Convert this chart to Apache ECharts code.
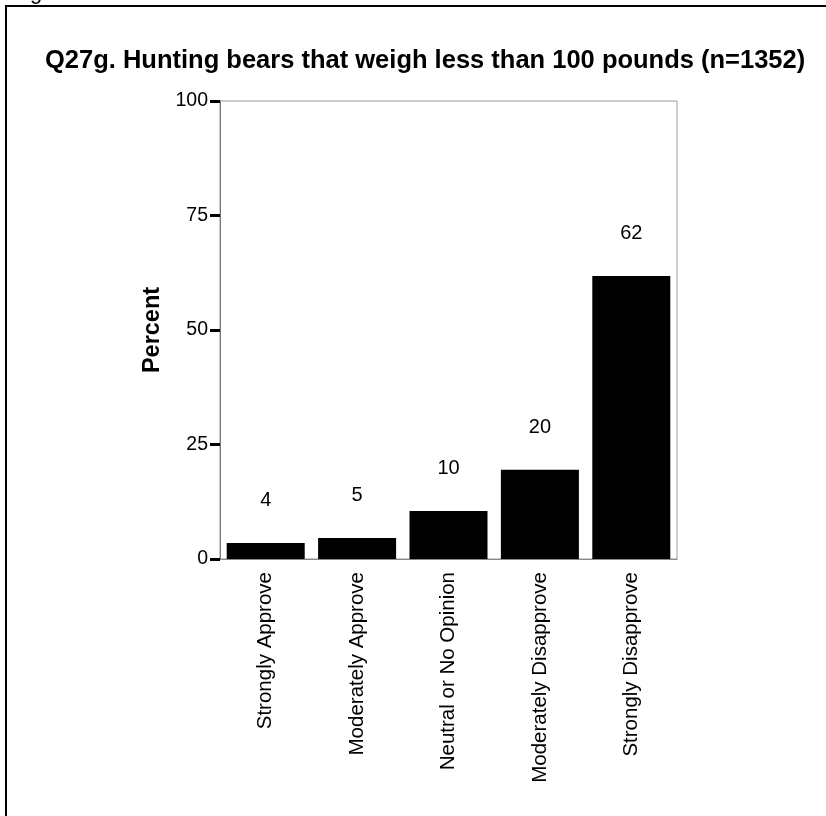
<!DOCTYPE html>
<html>
<head>
<meta charset="utf-8">
<script src="https://cdn.jsdelivr.net/npm/echarts@6/dist/echarts.min.js"></script>
<style>
  html, body { margin: 0; padding: 0; background: #fff; }
  #chart { width: 826px; height: 816px; }
</style>
</head>
<body>
<div id="chart"></div>
<script>
  var categories = ['Strongly Approve', 'Moderately Approve', 'Neutral or No Opinion', 'Moderately Disapprove', 'Strongly Disapprove'];
  var percents = [3.5, 4.6, 10.5, 19.5, 61.8];
  var barLabels = ['4', '5', '10', '20', '62'];
  var yTicks = [0, 25, 50, 75, 100];

  var font = '"Liberation Sans", Arial, sans-serif';
  var chart = echarts.init(document.getElementById('chart'));

  var option = {
    animation: false,
    backgroundColor: '#fff',
    title: {
      text: 'Q27g. Hunting bears that weigh less than 100 pounds (n=1352)',
      left: 40,
      top: 43,
      textStyle: { fontFamily: font, fontSize: 25.5, fontWeight: 'bold', color: '#000' }
    },
    graphic: [
      { // page frame, left and top edges
        type: 'polyline',
        shape: { points: [[6, 816], [6, 6], [826, 6]] },
        style: { stroke: '#000', lineWidth: 2, fill: null }
      },
      { // cut-off text above the frame
        type: 'text',
        left: 30,
        top: -18,
        style: { text: 'g', font: '22px "Liberation Sans", Arial', fill: '#000' }
      }
    ],
    grid: {
      left: 220,
      top: 101,
      width: 457,
      height: 458,
      show: true,
      borderColor: '#999',
      borderWidth: 1
    },
    xAxis: {
      type: 'category',
      data: categories,
      axisLine: { lineStyle: { color: '#888', width: 1 } },
      axisTick: { alignWithLabel: true, length: 9, lineStyle: { color: '#000', width: 3 } },
      axisLabel: { rotate: 90, margin: 13, fontFamily: font, fontSize: 20.5, color: '#000', interval: 0 }
    },
    yAxis: {
      type: 'value',
      min: 0,
      max: 100,
      interval: 25,
      name: 'Percent',
      nameLocation: 'middle',
      nameGap: 55,
      nameTextStyle: { fontFamily: font, fontSize: 23.5, fontWeight: 'bold', color: '#000' },
      axisLine: { show: true, lineStyle: { color: '#777', width: 1 } },
      axisTick: { show: true, length: 10, lineStyle: { color: '#000', width: 3 } },
      axisLabel: {
        margin: 12, fontFamily: font, fontSize: 19.5, color: '#000',
        formatter: function (v) { return yTicks.indexOf(v) >= 0 ? String(v) : ''; }
      },
      splitLine: { show: false }
    },
    series: [{
      type: 'bar',
      data: percents,
      barWidth: 78,
      itemStyle: { color: '#000' },
      label: {
        show: true,
        position: 'top',
        distance: 32,
        fontFamily: font,
        fontSize: 20,
        color: '#000',
        formatter: function (p) { return barLabels[p.dataIndex]; }
      }
    }]
  };

  chart.setOption(option);
</script>
</body>
</html>
